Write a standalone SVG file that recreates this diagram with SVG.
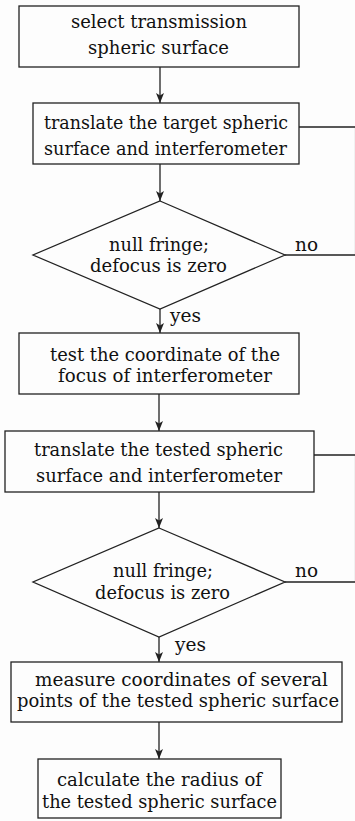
<svg xmlns="http://www.w3.org/2000/svg" width="355" height="821" viewBox="0 0 355 821">
<style>
.bg{fill:#fdfdfd}
.box{fill:#fdfdfd;stroke:#222;stroke-width:1.3}
.ln{fill:none;stroke:#222;stroke-width:1.3}
text{font-family:"DejaVu Serif","Liberation Serif",serif;font-size:18.5px;fill:#111}
</style>
<defs>
<marker id="ah" viewBox="0 0 10 12" refX="10" refY="6" markerWidth="10" markerHeight="12" markerUnits="userSpaceOnUse" orient="auto">
<path d="M0,2 L10,6 L0,10 L2.5,6 Z" fill="#222"/>
</marker>
</defs>
<rect class="bg" x="0" y="0" width="355" height="821"/>
<g id="connectors">
<line class="ln" x1="160" y1="67" x2="160" y2="103" marker-end="url(#ah)"/>
<line class="ln" x1="160" y1="164" x2="160" y2="201" marker-end="url(#ah)"/>
<line class="ln" x1="160" y1="309" x2="160" y2="333" marker-end="url(#ah)"/>
<line class="ln" x1="159" y1="394" x2="159" y2="431" marker-end="url(#ah)"/>
<line class="ln" x1="159" y1="492" x2="159" y2="528" marker-end="url(#ah)"/>
<line class="ln" x1="159" y1="637" x2="159" y2="662" marker-end="url(#ah)"/>
<line class="ln" x1="159" y1="722" x2="159" y2="759" marker-end="url(#ah)"/>
<path class="ln" d="M299,127 H355.6 V255 H285"/>
<path class="ln" d="M314,455 H355.6 V582 H285"/>
<text x="295" y="251" textLength="23" lengthAdjust="spacingAndGlyphs">no</text>
<text x="170" y="322" textLength="31" lengthAdjust="spacingAndGlyphs">yes</text>
<text x="295" y="577" textLength="23" lengthAdjust="spacingAndGlyphs">no</text>
<text x="175" y="651" textLength="31" lengthAdjust="spacingAndGlyphs">yes</text>
</g>
<g id="n1">
<rect class="box" x="19" y="6" width="280" height="61"/>
<text x="71" y="28" textLength="176" lengthAdjust="spacingAndGlyphs">select transmission</text>
<text x="88" y="54" textLength="141" lengthAdjust="spacingAndGlyphs">spheric surface</text>
</g>
<g id="n2">
<rect class="box" x="33" y="103" width="266" height="61"/>
<text x="44" y="129" textLength="244" lengthAdjust="spacingAndGlyphs">translate the target spheric</text>
<text x="44" y="155" textLength="243" lengthAdjust="spacingAndGlyphs">surface and interferometer</text>
</g>
<g id="d1">
<polygon class="box" points="160,201 285,255 160,309 33,255"/>
<text x="109" y="251" textLength="100" lengthAdjust="spacingAndGlyphs">null fringe;</text>
<text x="90" y="272" textLength="137" lengthAdjust="spacingAndGlyphs">defocus is zero</text>
</g>
<g id="n3">
<rect class="box" x="19" y="333" width="280" height="61"/>
<text x="50" y="361" textLength="230" lengthAdjust="spacingAndGlyphs">test the coordinate of the</text>
<text x="58" y="382" textLength="214" lengthAdjust="spacingAndGlyphs">focus of interferometer</text>
</g>
<g id="n4">
<rect class="box" x="5" y="431" width="309" height="61"/>
<text x="34" y="456" textLength="249" lengthAdjust="spacingAndGlyphs">translate the tested spheric</text>
<text x="36" y="482" textLength="246" lengthAdjust="spacingAndGlyphs">surface and interferometer</text>
</g>
<g id="d2">
<polygon class="box" points="159,528 285,582 159,637 33,582"/>
<text x="113" y="577" textLength="100" lengthAdjust="spacingAndGlyphs">null fringe;</text>
<text x="95" y="599" textLength="135" lengthAdjust="spacingAndGlyphs">defocus is zero</text>
</g>
<g id="n5">
<rect class="box" x="11" y="662" width="331" height="60"/>
<text x="35" y="686" textLength="293" lengthAdjust="spacingAndGlyphs">measure coordinates of several</text>
<text x="17" y="707" textLength="322" lengthAdjust="spacingAndGlyphs">points of the tested spheric surface</text>
</g>
<g id="n6">
<rect class="box" x="38" y="759" width="243" height="59"/>
<text x="57" y="786" textLength="205" lengthAdjust="spacingAndGlyphs">calculate the radius of</text>
<text x="42" y="808" textLength="235" lengthAdjust="spacingAndGlyphs">the tested spheric surface</text>
</g>
</svg>
